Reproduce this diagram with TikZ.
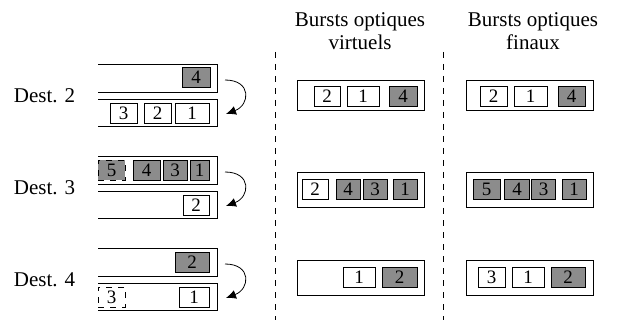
\documentclass[tikz,border=0pt]{standalone}
\usepackage{fontspec}
\setmainfont{Liberation Serif}
\usetikzlibrary{arrows.meta}
\definecolor{pktgray}{RGB}{140,140,140}
\tikzset{
  pkt/.style={draw, inner sep=0pt, minimum height=10pt, font=\fontsize{9.5}{10}\selectfont},
  full/.style={pkt, fill=pktgray},
  lost/.style={pkt, dashed},
  burst/.style={draw, inner sep=0pt, minimum width=63.5pt, minimum height=17.5pt},
  dest/.style={font=\fontsize{10.5}{11.5}\selectfont},
  hop/.style={-{Latex[length=5pt,width=4.5pt]}}
}

\begin{document}
\begin{tikzpicture}[x=0.5pt,y=-0.5pt]
\useasboundingbox (0,0) rectangle (620,320);

% files d'attente
\foreach \y/\n in {64/2,156/3,248/4}{
  \draw (98,\y) -- (217,\y) -- (217,\y+28) -- (98,\y+28);
  \draw (98,\y+35) -- (217,\y+35) -- (217,\y+62) -- (98,\y+62);
  \coordinate (s\n) at (225,\y+16);
  \coordinate (e\n) at (226,\y+50);
  \draw[hop] (s\n) .. controls +(27,0) and +(24,-9) .. (e\n);
}

\node[dest] (d2) at (44.5,96) {Dest. 2};
\node[dest] (d3) at (44.5,188) {Dest. 3};
\node[dest] (d4) at (44.5,280) {Dest. 4};

% Dest. 2
\node[full, minimum width=14pt] (h2a) at (196,77.5) {4};
\node[pkt, minimum width=13.5pt] (b2a) at (123.5,113) {3};
\node[pkt, minimum width=13.5pt] (b2b) at (157.5,113) {2};
\node[pkt, minimum width=17pt] (b2c) at (192,113) {1};

% Dest. 3
\node[full, dashed, minimum width=13.5pt] (h3a) at (111.5,170) {5};
\node[full, minimum width=13.5pt] (h3b) at (146.5,170) {4};
\node[full, minimum width=12pt] (h3c) at (175,170) {3};
\node[full, minimum width=9.5pt] (h3d) at (199.5,170) {1};
\node[pkt, minimum width=13pt] (b3a) at (196,205) {2};

% Dest. 4
\node[full, minimum width=17pt] (h4a) at (192,262) {2};
\node[lost, minimum width=13.5pt] (b4a) at (111.5,297) {3};
\node[pkt, minimum width=15pt] (b4b) at (194,297) {1};

% separations
\draw[dashed] (275,52) -- (275,320);
\draw[dashed] (443,52) -- (443,320);

\node[dest, align=center] (hv) at (360,31) {Bursts optiques\\virtuels};
\node[dest, align=center] (hf) at (533,31) {Bursts optiques\\finaux};

% bursts virtuels
\node[burst, minimum height=15pt] (v1) at (360.5,95) {};
\node[pkt, minimum width=13pt] (v1a) at (327,96.5) {2};
\node[pkt, minimum width=16pt] (v1b) at (363,96.5) {1};
\node[full, minimum width=14pt] (v1c) at (403,96.5) {4};

\node[burst] (v2) at (360.5,189.5) {};
\node[pkt, minimum width=13pt] (v2a) at (315,189) {2};
\node[full, minimum width=12pt] (v2b) at (348,189) {4};
\node[full, minimum width=12pt] (v2c) at (375,189) {3};
\node[full, minimum width=12pt] (v2d) at (405,189) {1};

\node[burst] (v3) at (360.5,277.5) {};
\node[pkt, minimum width=16pt] (v3a) at (359,277.5) {1};
\node[full, minimum width=17.5pt] (v3b) at (399.5,277.5) {2};

% bursts finaux
\node[burst, minimum height=15pt] (f1) at (530,95) {};
\node[pkt, minimum width=13.5pt] (f1a) at (493.5,96.5) {2};
\node[pkt, minimum width=16.5pt] (f1b) at (530.5,96.5) {1};
\node[full, minimum width=13.5pt] (f1c) at (571.5,96.5) {4};

\node[burst] (f2) at (530,189.5) {};
\node[full, minimum width=13.5pt] (f2a) at (486.5,189) {5};
\node[full, minimum width=12.5pt] (f2b) at (517,189) {4};
\node[full, minimum width=12pt] (f2c) at (543.5,189) {3};
\node[full, minimum width=12pt] (f2d) at (574,189) {1};

\node[burst] (f3) at (530,277.5) {};
\node[pkt, minimum width=13.5pt] (f3a) at (491.5,277.5) {3};
\node[pkt, minimum width=16pt] (f3b) at (528,277.5) {1};
\node[full, minimum width=17pt] (f3c) at (568,277.5) {2};
\end{tikzpicture}
\end{document}
